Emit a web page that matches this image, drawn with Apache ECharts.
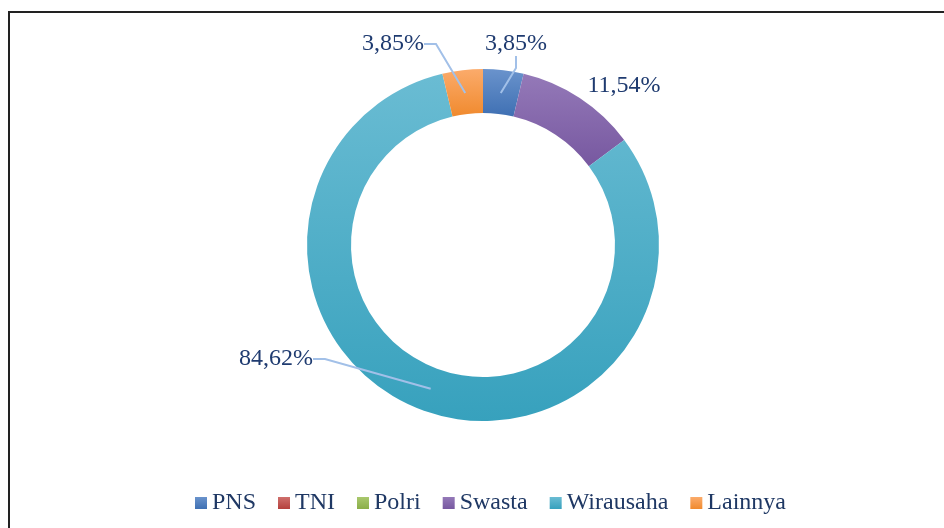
<!DOCTYPE html>
<html>
<head>
<meta charset="utf-8">
<script src="https://cdn.jsdelivr.net/npm/echarts@6/dist/echarts.min.js"></script>
<style>
  html, body { margin: 0; padding: 0; background: #fff; }
  #chart { width: 944px; height: 528px; }
</style>
</head>
<body>
<div id="chart"></div>
<script>
// data
const categories = ['PNS', 'TNI', 'Polri', 'Swasta', 'Wirausaha', 'Lainnya'];
const percents = [3.85, 0, 0, 11.54, 84.62, 3.85];

// slice colours (light top -> dark bottom, like the office gradient)
const sliceColors = [
  ['#6a93cc', '#3f70b3'],
  ['#cf6f6c', '#b5403c'],
  ['#a9c86d', '#8aae48'],
  ['#9479b8', '#7758a0'],
  ['#6abcd3', '#37a1bd'],
  ['#fbab6b', '#f08a2e']
];

// where the data labels sit (text centres)
const labelSpots = [[516, 44], null, null, [624, 86], [276, 359], [393, 44]];

const grad = (c) => new echarts.graphic.LinearGradient(0, 0, 0, 1, [
  { offset: 0, color: c[0] },
  { offset: 1, color: c[1] }
]);

const myChart = echarts.init(document.getElementById('chart'));

const ringData = categories.map((name, i) => ({
  name: name,
  value: percents[i],
  itemStyle: { color: grad(sliceColors[i]) }
}));

// invisible copy at mid-ring, only used to carry the labels and leader lines
const labelData = categories.map((name, i) => ({
  name: name,
  value: percents[i],
  label: { show: percents[i] > 0 },
  labelLine: { show: percents[i] > 0 && name !== 'Swasta' }
}));

const option = {
  animation: false,
  graphic: [{
    type: 'rect',
    shape: { x: 9, y: 12, width: 1000, height: 600 },
    style: { fill: 'none', stroke: '#222', lineWidth: 2 },
    silent: true
  }],
  legend: {
    data: categories,
    left: 190,
    top: 486,
    icon: 'rect',
    itemWidth: 12,
    itemHeight: 12,
    itemGap: 22,
    textStyle: {
      fontFamily: 'Liberation Serif',
      fontSize: 24,
      color: '#1f3864'
    }
  },
  series: [
    {
      name: 'ring',
      type: 'pie',
      z: 1,
      center: [483, 245],
      radius: [132, 176],
      startAngle: 90,
      clockwise: true,
      silent: true,
      label: { show: false },
      labelLine: { show: false },
      data: ringData
    },
    {
      name: 'labels',
      type: 'pie',
      z: 5,
      center: [483, 245],
      radius: [0, 153],
      startAngle: 90,
      clockwise: true,
      silent: true,
      avoidLabelOverlap: false,
      itemStyle: { color: 'rgba(0,0,0,0)' },
      label: {
        position: 'outside',
        fontFamily: 'Liberation Serif',
        fontSize: 24,
        color: '#1f3b70',
        formatter: (p) => p.value.toFixed(2).replace('.', ',') + '%'
      },
      labelLine: {
        length: 10,
        length2: 12,
        lineStyle: { color: '#a2c0e8', width: 2 }
      },
      labelLayout: (params) => {
        const spot = labelSpots[params.dataIndex];
        if (!spot) return {};
        return { x: spot[0], y: spot[1], align: 'center', verticalAlign: 'middle' };
      },
      data: labelData
    }
  ]
};

myChart.setOption(option);
</script>
</body>
</html>
